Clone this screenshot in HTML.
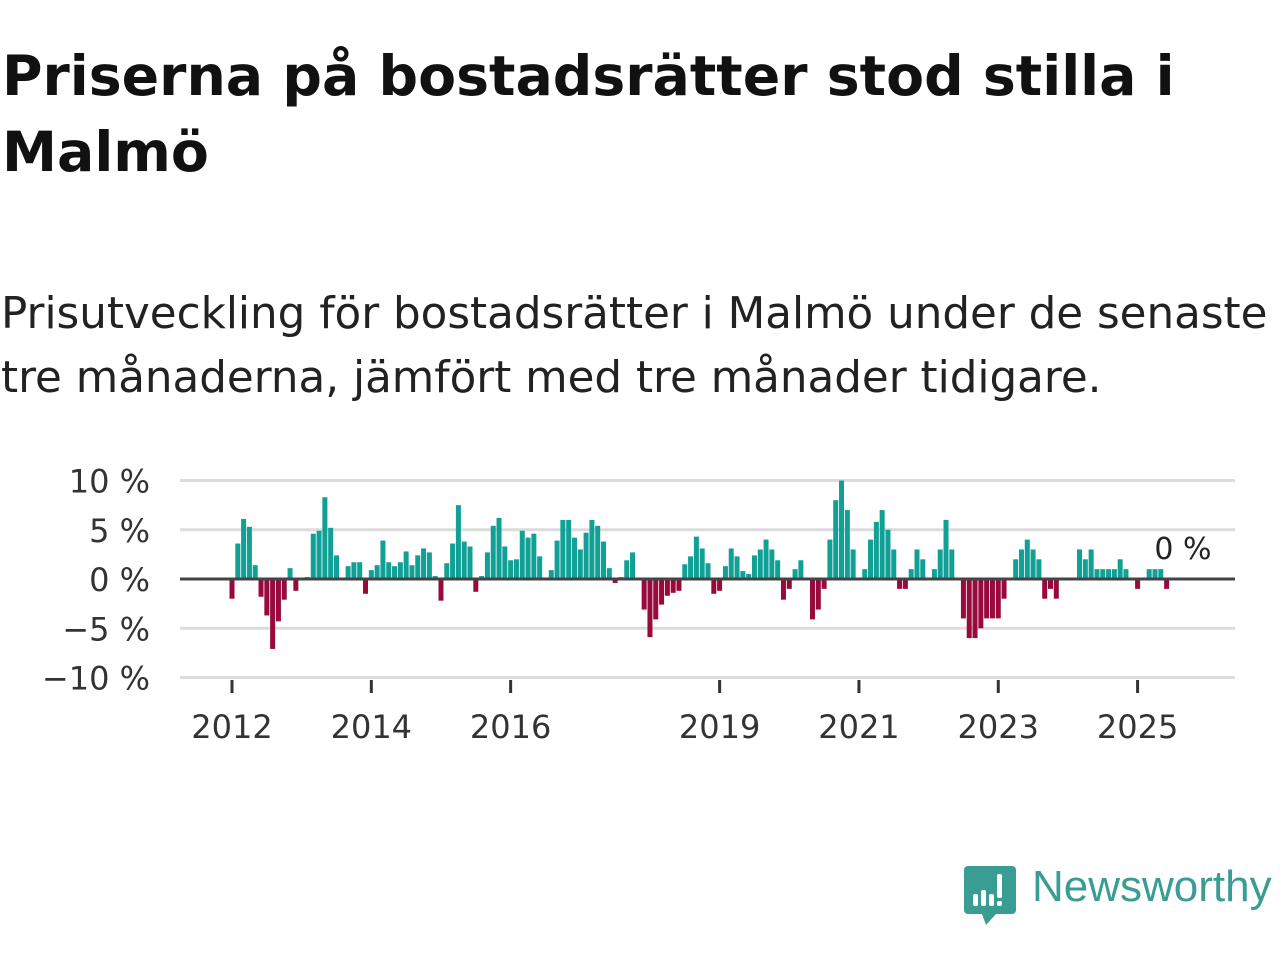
<!DOCTYPE html>
<html><head><meta charset="utf-8">
<style>
body{margin:0;width:1280px;height:960px;background:#fff;overflow:hidden;font-family:"DejaVu Sans",sans-serif;}
#title{position:absolute;left:2px;top:39px;font-size:55.3px;font-weight:bold;line-height:76px;color:#111;margin:0;white-space:nowrap;font-family:"DejaVu Sans",sans-serif;}
#sub{position:absolute;left:1px;top:282px;font-size:43.6px;line-height:64px;color:#222;margin:0;white-space:nowrap;font-family:"DejaVu Sans",sans-serif;}
svg{position:absolute;left:0;top:0;}
</style></head><body>
<h1 id="title">Priserna på bostadsrätter stod stilla i<br>Malmö</h1>
<p id="sub">Prisutveckling för bostadsrätter i Malmö under de senaste<br>tre månaderna, jämfört med tre månader tidigare.</p>
<svg id="chart" width="1280" height="960"></svg>
<script>
const values=[-2,3.6,6.1,5.3,1.4,-1.8,-3.7,-7.1,-4.3,-2.1,1.1,-1.2,0,0.2,4.6,4.9,8.3,5.2,2.4,0,1.3,1.7,1.7,-1.5,0.9,1.4,3.9,1.7,1.3,1.7,2.8,1.4,2.4,3.1,2.7,0.3,-2.2,1.6,3.6,7.5,3.8,3.3,-1.3,0.3,2.7,5.4,6.2,3.3,1.9,2.0,4.9,4.2,4.6,2.3,0,0.9,3.9,6.0,6.0,4.2,3.0,4.7,6.0,5.4,3.8,1.1,-0.4,0.2,1.9,2.7,0,-3.1,-5.9,-4.1,-2.6,-1.7,-1.4,-1.2,1.5,2.3,4.3,3.1,1.6,-1.5,-1.2,1.3,3.1,2.3,0.8,0.5,2.4,3.0,4.0,3.0,1.9,-2.1,-1.0,1.0,1.9,0,-4.1,-3.1,-1.0,4.0,8.0,10.0,7.0,3.0,0,1.0,4.0,5.8,7.0,5.0,3.0,-1.0,-1.0,1.0,3.0,2.0,0,1.0,3.0,6.0,3.0,0,-4,-6,-6,-5,-4,-4,-4,-2,0,2,3,4,3,2,-2,-1,-2,0,0,0,3,2,3,1,1,1,1,2,1,0,-1,0,1,1,1,-1,0,0];
const yTicks=[10,5,0,-5,-10];
const yTickLabels=["10 %","5 %","0 %","−5 %","−10 %"];
const xYears=[2012,2014,2016,2019,2021,2023,2025];
const startYear=2012;
const lastLabel="0 %";
const NS="http://www.w3.org/2000/svg";
const svg=document.getElementById('chart');
const y=v=>579-v*9.85;
const x=i=>232+i*5.805;
const xYear=yr=>x((yr-startYear)*12);
function mk(t,a){const e=document.createElementNS(NS,t);for(const k in a)e.setAttribute(k,a[k]);svg.appendChild(e);return e;}
yTicks.forEach((t,i)=>{
  if(t!==0){const g=mk('line',{x1:180,x2:1235,y1:y(t),y2:y(t),stroke:'#dcdcdc','stroke-width':3});
  
  }
  const l=mk('text',{x:150,y:y(t)+12,'text-anchor':'end','font-size':32,fill:'#333','font-family':'DejaVu Sans, sans-serif'});
  l.textContent=yTickLabels[i];
  
  
});
values.forEach((v,i)=>{
  if(v===0)return;
  const top=v>0?y(v):y(0);
  const r=mk('rect',{x:x(i)-2.5,y:top,width:5,height:Math.abs(y(v)-y(0)),fill:v>0?'#10a095':'#990a3c'});
  
  
});
const z=mk('line',{x1:180,x2:1235,y1:y(0),y2:y(0),stroke:'#444','stroke-width':3});


xYears.forEach(yr=>{
  const t=mk('line',{x1:xYear(yr),x2:xYear(yr),y1:680,y2:693,stroke:'#333','stroke-width':3});
  
  
  const l=mk('text',{x:xYear(yr),y:738,'text-anchor':'middle','font-size':32,fill:'#333','font-family':'DejaVu Sans, sans-serif'});
  l.textContent=yr;
  
  
});
const ll=mk('text',{x:1183,y:559,'text-anchor':'middle','font-size':30,fill:'#222','font-family':'DejaVu Sans, sans-serif'});
ll.textContent=lastLabel;


</script>
<svg width="60" height="64" style="left:964px;top:864px">
<path d="M4 2h44a4 4 0 0 1 4 4v40a4 4 0 0 1-4 4H32l-10 11-4-11H4a4 4 0 0 1-4-4V6a4 4 0 0 1 4-4z" fill="#3a9d93"/>
<rect x="9" y="30" width="5" height="12" rx="2" fill="#fff"/><rect x="17" y="26" width="5" height="16" rx="2" fill="#fff"/><rect x="25" y="30" width="5" height="12" rx="2" fill="#fff"/><rect x="33" y="10" width="5" height="24" rx="2" fill="#fff"/><rect x="33" y="37" width="5" height="5" rx="2" fill="#fff"/>
</svg>
<div style="position:absolute;left:1032px;top:862px;font-size:44px;color:#3a9d93;font-family:'Liberation Sans',sans-serif;">Newsworthy</div>
</body></html>
